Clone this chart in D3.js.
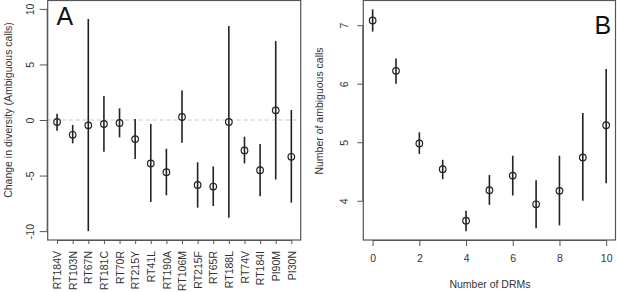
<!DOCTYPE html>
<html>
<head>
<meta charset="utf-8">
<script src="https://cdn.jsdelivr.net/npm/d3@7"></script>
<style>
  body { margin: 0; background: #fff; }
  svg { display: block; font-family: "Liberation Sans", Arial, sans-serif; }
</style>
</head>
<body>
<div id="chart"></div>
<script>
// panel A: change in diversity per mutation
const mutations = ['RT184V', 'RT103N', 'RT67N', 'RT181C', 'RT70R', 'RT215Y', 'RT41L', 'RT190A',
  'RT106M', 'RT215F', 'RT65R', 'RT188L', 'RT74V', 'RT184I', 'PI90M', 'PI30N'];
const changeMid = [-0.18, -1.33, -0.48, -0.36, -0.27, -1.72, -3.91, -4.7,
  0.27, -5.84, -5.99, -0.18, -2.74, -4.52, 0.87, -3.31];
const changeLow = [-0.97, -2.1, -10.0, -2.86, -1.56, -3.5, -7.38, -6.78,
  -2.05, -7.89, -7.74, -8.79, -3.91, -6.87, -5.36, -7.44];
const changeHigh = [0.57, -0.45, 9.1, 2.17, 1.05, 0.09, -0.36, -2.59,
  2.65, -3.8, -4.18, 8.46, -1.5, -2.17, 7.1, 0.9];
const ticksA = [-10, -5, 0, 5, 10];

// panel B: ambiguous calls by number of DRMs
const drmCount = [0, 1, 2, 3, 4, 5, 6, 7, 8, 9, 10];
const callsMid = [7.08, 6.22, 4.98, 4.54, 3.66, 4.18, 4.43, 3.94, 4.17, 4.74, 5.29];
const callsLow = [6.89, 6.0, 4.8, 4.37, 3.48, 3.93, 4.09, 3.53, 3.58, 4.0, 4.3];
const callsHigh = [7.27, 6.43, 5.17, 4.70, 3.83, 4.44, 4.77, 4.35, 4.77, 5.5, 6.25];
const ticksBy = [4, 5, 6, 7];
const ticksBx = [0, 2, 4, 6, 8, 10];

const width = 617, height = 292;
const ink = '#222';
const frame = '#555';
const fmt = (d) => String(d).replace('\u2212', '-');

const svg = d3.select('#chart').append('svg')
  .attr('width', width)
  .attr('height', height);

// R-like axis styling
function styleAxis(g) {
  g.select('.domain').attr('stroke', frame).attr('stroke-width', 1);
  g.selectAll('.tick line').attr('stroke', frame).attr('stroke-width', 1);
  g.selectAll('.tick text').attr('fill', '#333').style('font-size', '10.5px');
}

function drawPanel(opts) {
  const { x, y, xs, lo, mid, hi } = opts;
  const [x0, x1] = x.range();
  const [y0, y1] = y.range();

  // box
  svg.append('rect')
    .attr('x', x0).attr('y', y1 + 0.5)
    .attr('width', x1 - x0).attr('height', y0 - y1 - 0.5)
    .attr('fill', 'none')
    .attr('stroke', frame)
    .attr('stroke-width', 1.2);

  // error bars
  svg.append('g').selectAll('line')
    .data(xs)
    .join('line')
    .attr('x1', (d) => x(d)).attr('x2', (d) => x(d))
    .attr('y1', (d, i) => y(lo[i]))
    .attr('y2', (d, i) => y(hi[i]))
    .attr('stroke', ink)
    .attr('stroke-width', 1.6);

  // open points
  svg.append('g').selectAll('circle')
    .data(xs)
    .join('circle')
    .attr('cx', (d) => x(d))
    .attr('cy', (d, i) => y(mid[i]))
    .attr('r', 3.3)
    .attr('fill', 'none')
    .attr('stroke', ink)
    .attr('stroke-width', 1.2);
}

// ---- panel A ----
const xA = d3.scaleLinear().domain([0.4, 16.6]).range([47.7, 300.7]);
const yA = d3.scaleLinear().domain([-10.8, 10.8]).range([240, 0]);
const idx = mutations.map((d, i) => i + 1);

// dashed zero line
svg.append('line')
  .attr('x1', xA.range()[0]).attr('x2', xA.range()[1])
  .attr('y1', yA(0)).attr('y2', yA(0))
  .attr('stroke', '#c8c8c8')
  .attr('stroke-dasharray', '4,3');

drawPanel({ x: xA, y: yA, xs: idx, lo: changeLow, mid: changeMid, hi: changeHigh });

const axA = svg.append('g')
  .attr('transform', `translate(0,240)`)
  .call(d3.axisBottom(xA).tickValues(idx).tickFormat((d) => mutations[d - 1]).tickSize(4).tickSizeOuter(0))
  .call(styleAxis);
axA.select('.domain').attr('d', `M${xA(1)},0.5H${xA(16)}`);
axA.selectAll('.tick text')
  .attr('transform', 'rotate(-90)')
  .attr('text-anchor', 'end')
  .attr('x', -11)
  .attr('y', 0)
  .attr('dy', '0.35em');

const ayA = svg.append('g')
  .attr('transform', `translate(47.7,0)`)
  .call(d3.axisLeft(yA).tickValues(ticksA).tickFormat(fmt).tickSize(8).tickSizeOuter(0))
  .call(styleAxis);
ayA.select('.domain').attr('d', `M-0.5,${yA(-10)}V${yA(10)}`);
ayA.selectAll('.tick text')
  .attr('transform', 'rotate(-90)')
  .attr('text-anchor', 'middle')
  .attr('x', 0)
  .attr('y', -16)
  .attr('dy', 0)
  .attr('dominant-baseline', 'middle');

svg.append('text')
  .attr('transform', 'translate(9.5,110) rotate(-90)')
  .attr('text-anchor', 'middle')
  .attr('dominant-baseline', 'middle')
  .attr('fill', '#333')
  .style('font-size', '10.5px')
  .text('Change in diversity (Ambiguous calls)');

svg.append('text')
  .attr('x', 56.5).attr('y', 25)
  .attr('fill', '#111')
  .style('font-size', '25px')
  .text('A');

// ---- panel B ----
const xB = d3.scaleLinear().domain([-0.4, 10.4]).range([363.3, 615.5]);
const yB = d3.scaleLinear().domain([3.33, 7.43]).range([240, 0]);

drawPanel({ x: xB, y: yB, xs: drmCount, lo: callsLow, mid: callsMid, hi: callsHigh });

const axB = svg.append('g')
  .attr('transform', `translate(0,240)`)
  .call(d3.axisBottom(xB).tickValues(ticksBx).tickFormat(fmt).tickSize(6).tickSizeOuter(0))
  .call(styleAxis);
axB.select('.domain').attr('d', `M${xB(0)},0.5H${xB(10)}`);
axB.selectAll('.tick text').attr('y', 19).attr('dy', 0).attr('dominant-baseline', 'middle');

const ayB = svg.append('g')
  .attr('transform', `translate(363.3,0)`)
  .call(d3.axisLeft(yB).tickValues(ticksBy).tickFormat(fmt).tickSize(6).tickSizeOuter(0))
  .call(styleAxis);
ayB.select('.domain').attr('d', `M-0.5,${yB(4)}V${yB(7)}`);
ayB.selectAll('.tick text')
  .attr('transform', 'rotate(-90)')
  .attr('text-anchor', 'middle')
  .attr('x', 0)
  .attr('y', -18)
  .attr('dy', 0)
  .attr('dominant-baseline', 'middle');

svg.append('text')
  .attr('transform', 'translate(320,111) rotate(-90)')
  .attr('text-anchor', 'middle')
  .attr('dominant-baseline', 'middle')
  .attr('fill', '#333')
  .style('font-size', '10.5px')
  .text('Number of ambiguous calls');

svg.append('text')
  .attr('x', 490).attr('y', 285)
  .attr('text-anchor', 'middle')
  .attr('dominant-baseline', 'middle')
  .attr('fill', '#333')
  .style('font-size', '10.5px')
  .text('Number of DRMs');

svg.append('text')
  .attr('x', 594.5).attr('y', 34)
  .attr('fill', '#111')
  .style('font-size', '25px')
  .text('B');
</script>
</body>
</html>
